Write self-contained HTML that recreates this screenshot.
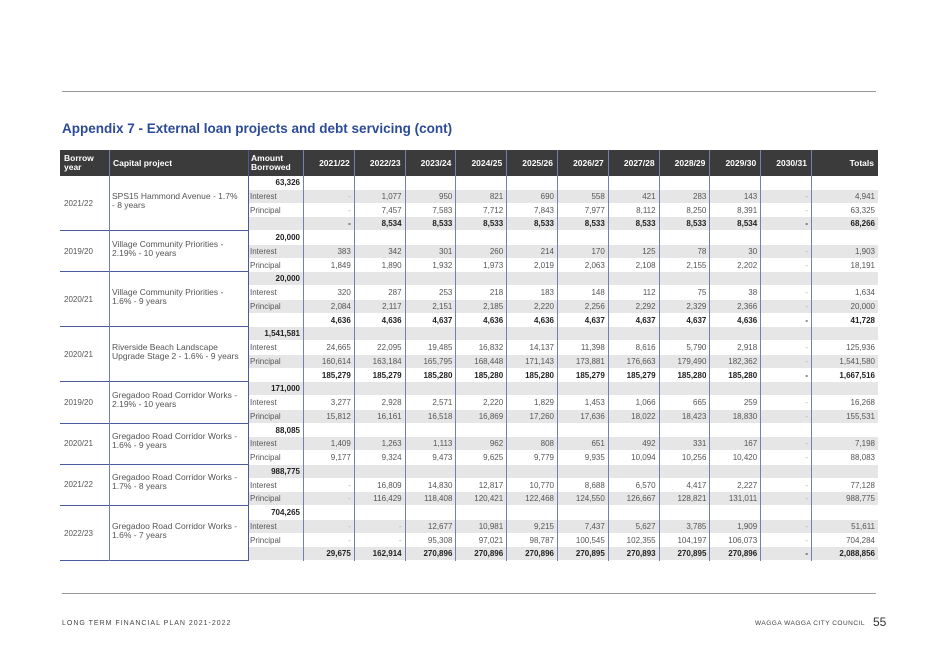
<!DOCTYPE html>
<html><head><meta charset="utf-8"><style>
body{margin:0;width:928px;height:656px;background:#fff;position:relative;overflow:hidden;font-family:"Liberation Sans",sans-serif}
.a{position:absolute}
.c{position:absolute;font-size:8px;color:#555;line-height:13.75px;white-space:nowrap}
.r{text-align:right}
.b{font-weight:bold;color:#222}
.h{position:absolute;color:#fff;font-weight:bold;font-size:8.5px;line-height:9px}
.vl{position:absolute;width:1px;background:#7380b0}
</style></head><body>
<div class="a" style="left:62px;top:91px;width:814px;height:1px;background:#999"></div>
<div class="a" style="left:62px;top:121px;font-size:13.5px;font-weight:bold;color:#2b4b98">Appendix 7 - External loan projects and debt servicing (cont)</div>
<div class="a" style="left:60px;top:150px;width:818px;height:26px;background:#3b3b3b"></div>
<div id="tbl"></div>
<div class="a" style="left:62px;top:593px;width:814px;height:1px;background:#999"></div>
<div class="a" style="left:62px;top:620px;font-size:7px;letter-spacing:1px;color:#444">LONG TERM FINANCIAL PLAN 2021-2022</div>
<div class="a" style="right:63px;top:620px;font-size:6.5px;letter-spacing:0.5px;color:#444;text-align:right">WAGGA WAGGA CITY COUNCIL</div>
<div class="a" style="left:873px;top:615px;font-size:12px;color:#333">55</div>
<script>
const years=["2021/22","2022/23","2023/24","2024/25","2025/26","2026/27","2027/28","2028/29","2029/30","2030/31","Totals"];
const projects=[
{y:"2021/22",n:"SPS15 Hammond Avenue - 1.7% - 8 years",amt:"63,326",
 i:["-","1,077","950","821","690","558","421","283","143","-","4,941"],
 p:["-","7,457","7,583","7,712","7,843","7,977","8,112","8,250","8,391","-","63,325"],
 t:["-","8,534","8,533","8,533","8,533","8,533","8,533","8,533","8,534","-","68,266"]},
{y:"2019/20",n:"Village Community Priorities - 2.19% - 10 years",amt:"20,000",
 i:["383","342","301","260","214","170","125","78","30","-","1,903"],
 p:["1,849","1,890","1,932","1,973","2,019","2,063","2,108","2,155","2,202","-","18,191"]},
{y:"2020/21",n:"Village Community Priorities - 1.6% - 9 years",amt:"20,000",
 i:["320","287","253","218","183","148","112","75","38","-","1,634"],
 p:["2,084","2,117","2,151","2,185","2,220","2,256","2,292","2,329","2,366","-","20,000"],
 t:["4,636","4,636","4,637","4,636","4,636","4,637","4,637","4,637","4,636","-","41,728"]},
{y:"2020/21",n:"Riverside Beach Landscape Upgrade Stage 2 - 1.6% - 9 years",amt:"1,541,581",
 i:["24,665","22,095","19,485","16,832","14,137","11,398","8,616","5,790","2,918","-","125,936"],
 p:["160,614","163,184","165,795","168,448","171,143","173,881","176,663","179,490","182,362","-","1,541,580"],
 t:["185,279","185,279","185,280","185,280","185,280","185,279","185,279","185,280","185,280","-","1,667,516"]},
{y:"2019/20",n:"Gregadoo Road Corridor Works - 2.19% - 10 years",amt:"171,000",
 i:["3,277","2,928","2,571","2,220","1,829","1,453","1,066","665","259","-","16,268"],
 p:["15,812","16,161","16,518","16,869","17,260","17,636","18,022","18,423","18,830","-","155,531"]},
{y:"2020/21",n:"Gregadoo Road Corridor Works - 1.6% - 9 years",amt:"88,085",
 i:["1,409","1,263","1,113","962","808","651","492","331","167","-","7,198"],
 p:["9,177","9,324","9,473","9,625","9,779","9,935","10,094","10,256","10,420","-","88,083"]},
{y:"2021/22",n:"Gregadoo Road Corridor Works - 1.7% - 8 years",amt:"988,775",
 i:["-","16,809","14,830","12,817","10,770","8,688","6,570","4,417","2,227","-","77,128"],
 p:["-","116,429","118,408","120,421","122,468","124,550","126,667","128,821","131,011","-","988,775"]},
{y:"2022/23",n:"Gregadoo Road Corridor Works - 1.6% - 7 years",amt:"704,265",
 i:["-","-","12,677","10,981","9,215","7,437","5,627","3,785","1,909","-","51,611"],
 p:["-","-","95,308","97,021","98,787","100,545","102,355","104,197","106,073","-","704,284"],
 t:["29,675","162,914","270,896","270,896","270,896","270,895","270,893","270,895","270,896","-","2,088,856"]}
];
const T=document.getElementById('tbl');
const X0=60,XP=109,XA=248,XY=303,CW=50.8,XT=811,XE=878,TOP=176,RH=13.75;
function colL(k){return k<10?XY+k*CW:XT;}
function colR(k){return k<10?XY+(k+1)*CW:XE;}
function mk(cls,txt,st){const d=document.createElement('div');d.className=cls;if(txt!==null)d.textContent=txt;d.style.cssText=st;T.appendChild(d);return d;}
let hb=mk('h','Borrow\u00a0\u00a0\u00a0\u00a0\u00a0 year','left:64px;top:154px;width:36px');


let hc=mk('h','Capital project','left:113px;top:159px');


let ha=mk('h','Amount Borrowed','left:251px;top:154px;width:48px');


years.forEach((yr,k)=>{
 const d=mk('h',yr,`left:${colL(k)}px;width:${colR(k)-colL(k)-4}px;top:159px;text-align:right`);
 
 
});
let row=0;
projects.forEach((pr,pi)=>{
 const start=row;
 const lines=[["amt"],["i","Interest"],["p","Principal"]];
 if(pr.t)lines.push(["t",""]);
 lines.forEach(L=>{
  const top=TOP+row*RH;
  if(row%2===1){const g=mk('a',null,`left:${XA}px;top:${top}px;width:${XE-XA}px;height:${RH-1}px;background:#e6e6e6`);
   
   }
  if(L[0]==="amt"){
   const d=mk('c r b',pr.amt,`left:${XA}px;width:${XY-XA-3}px;top:${top}px`);
   
   
  }else{
   if(L[1]){const l=mk('c',L[1],`left:${XA+2}px;top:${top}px`);
    
    }
   pr[L[0]].forEach((v,k)=>{
    const bold=L[0]==='t';
    const d=mk('c r'+(bold?' b':''),v,`left:${colL(k)}px;width:${colR(k)-colL(k)-3}px;top:${top}px`+(v==='-'&&!bold?';color:#aaa':''));
    
    
   });
  }
  row++;
 });
 const gTop=TOP+start*RH,gH=(row-start)*RH;
 const y=mk('c',pr.y,`left:64px;top:${gTop+gH/2-7}px`);
 
 
 const n=mk('c',pr.n,`left:112px;top:${gTop+gH/2-12}px;width:130px;white-space:normal;line-height:9px;font-size:8.5px`);
 
 
 const hl=mk('a',null,`left:${X0}px;top:${gTop+gH-1}px;width:${XA-X0}px;height:1px;background:#4a5a9a`);
 
 
});
const bottom=TOP+row*RH;
[XP,XA,XY].concat([1,2,3,4,5,6,7,8,9].map(k=>XY+k*CW)).concat([XT]).forEach(x=>{
 const v=mk('vl',null,`left:${Math.round(x)}px;top:150px;height:${bottom-150}px`+(x===XA?';background:#4a5a9a':''));
 
 
});
</script>
</body></html>
